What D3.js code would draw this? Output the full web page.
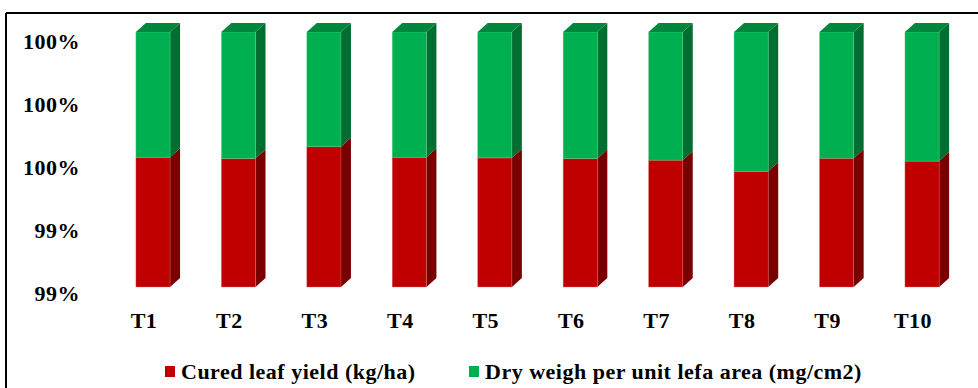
<!DOCTYPE html>
<html>
<head>
<meta charset="utf-8">
<script src="https://cdn.jsdelivr.net/npm/d3@7"></script>
<style>
  html, body { margin: 0; padding: 0; background: #fff; }
  svg { display: block; }
</style>
</head>
<body>
<svg id="chart" width="978" height="388"></svg>
<script>
// Treatments
const categories = ["T1", "T2", "T3", "T4", "T5", "T6", "T7", "T8", "T9", "T10"];
// Share of each treatment total (%), 100% stacked
const curedLeafYieldShare = [99.607, 99.603, 99.640, 99.607, 99.605, 99.603, 99.598, 99.563, 99.604, 99.595];
const dryWeightShare = [0.393, 0.397, 0.360, 0.393, 0.395, 0.397, 0.402, 0.437, 0.396, 0.405];
// Value axis ticks (%)
const yTicks = [99.2, 99.4, 99.6, 99.8, 100.0];
const seriesNames = ["Cured leaf yield (kg/ha)", "Dry weigh per unit lefa area (mg/cm2)"];

const svg = d3.select("#chart");
const W = 978, H = 388;
const FONT = "Liberation Serif";
const FONT_SIZE = 22;

// Colours per series: front, side, top
const palette = [
  { front: "#C00000", side: "#7A0000", top: "#A00000", edge: "#E27A7A" },
  { front: "#00B050", side: "#006E30", top: "#00873D", edge: "#6FD69C" }
];

function styleText(sel) {
  return sel.attr("font-family", FONT).attr("font-weight", "bold")
    .attr("font-size", FONT_SIZE).attr("letter-spacing", 0.5).attr("fill", "#000");
}

// Chart frame (top and left border)
svg.append("line").attr("x1", 6).attr("y1", 13).attr("x2", W).attr("y2", 13)
  .attr("stroke", "#000").attr("stroke-width", 2);
svg.append("line").attr("x1", 6).attr("y1", 13).attr("x2", 6).attr("y2", H)
  .attr("stroke", "#000").attr("stroke-width", 2);

const x = d3.scaleBand().domain(categories).range([100, 975]).paddingInner(0.6).paddingOuter(0.42);
const y = d3.scaleLinear().domain([99.2, 100]).range([287, 32]);
// Axis labels sit slightly below the front face (3D back-wall projection)
const yLabel = d3.scaleLinear().domain([99.2, 100]).range([293, 41]);
const depthX = 10, depthY = 9;

const rows = categories.map((c, i) => ({ cat: c, cured: curedLeafYieldShare[i], dry: dryWeightShare[i] }));
const stack = d3.stack().keys(["cured", "dry"]);
const stacked = stack(rows);

const bw = x.bandwidth();
const bars = svg.append("g");

categories.forEach((c, i) => {
  const g = bars.append("g");
  const x0 = x(c);
  stacked.forEach((layer, si) => {
    const d = layer[i];
    const lo = Math.max(d[0], y.domain()[0]);
    const hi = d[1];
    const yb = y(lo), yt = y(hi);
    const col = palette[si];
    // side face
    g.append("path")
      .attr("d", `M${x0 + bw},${yt} L${x0 + bw + depthX},${yt - depthY} L${x0 + bw + depthX},${yb - depthY} L${x0 + bw},${yb} Z`)
      .attr("fill", col.side);
    // front face
    g.append("rect")
      .attr("x", x0).attr("y", yt).attr("width", bw).attr("height", yb - yt)
      .attr("fill", col.front)
      .attr("stroke", col.edge).attr("stroke-width", 0.6).attr("stroke-opacity", 0.6);
    // top face on the last segment
    if (si === stacked.length - 1) {
      g.append("path")
        .attr("d", `M${x0},${yt} L${x0 + depthX},${yt - depthY} L${x0 + bw + depthX},${yt - depthY} L${x0 + bw},${yt} Z`)
        .attr("fill", col.top);
    }
  });
});

// Value axis labels
const fmt = d3.format(".0%");
svg.append("g").selectAll("text").data(yTicks).join("text")
  .attr("x", 80).attr("y", d => yLabel(d)).attr("dy", "0.35em")
  .attr("text-anchor", "end")
  .call(styleText)
  .text(d => fmt(d / 100));

// Category labels
svg.append("g").selectAll("text").data(categories).join("text")
  .attr("x", d => x(d) + bw / 2 - 9).attr("y", 328)
  .attr("text-anchor", "middle")
  .call(styleText)
  .text(d => d);

// Legend
const legend = svg.append("g");
const legendX = [165, 469];
seriesNames.forEach((name, i) => {
  legend.append("rect").attr("x", legendX[i]).attr("y", 366).attr("width", 10).attr("height", 11)
    .attr("fill", palette[i].front);
  legend.append("text").attr("x", legendX[i] + 16).attr("y", 379)
    .call(styleText)
    .text(name);
});
</script>
</body>
</html>
